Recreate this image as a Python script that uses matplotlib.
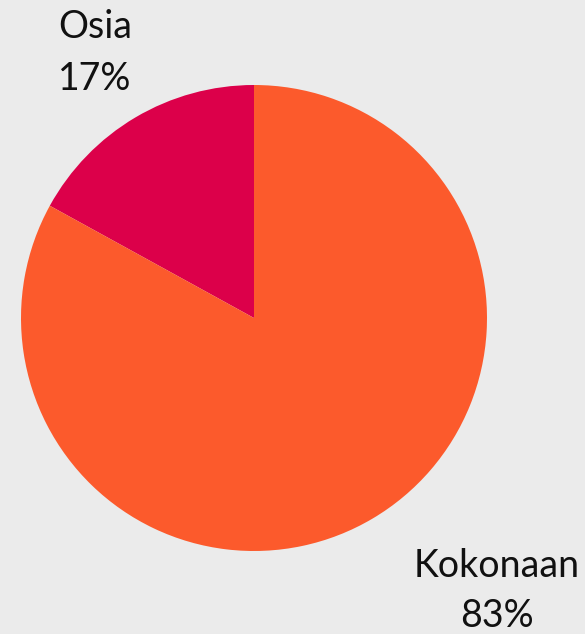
import matplotlib.pyplot as plt

labels = ['Osia', 'Kokonaan']
shares = [17, 83]
colors = ['#DC004A', '#FC5A2C']

bg = '#EBEBEB'
W, H = 585, 634
cx, cy, r = 254, 318, 233

fig = plt.figure(figsize=(W / 100, H / 100), dpi=100, facecolor=bg)
ax = fig.add_axes([(cx - r) / W, (H - cy - r) / H, 2 * r / W, 2 * r / H])
ax.set_facecolor(bg)
ax.pie(shares, colors=colors, startangle=90, counterclock=True, radius=1,
       wedgeprops=dict(linewidth=0))
ax.set_xlim(-1, 1)
ax.set_ylim(-1, 1)
ax.set_aspect('equal')
ax.axis('off')

# label anchor: x centre and baselines of the two lines, in pixels
label_pos = {'Osia': (95, 38, 90), 'Kokonaan': (497, 577, 627)}
for lab, val in zip(labels, shares):
    px, b1, b2 = label_pos[lab]
    for txt, py in ((lab, b1), (f'{val}%', b2)):
        ax.text((px - cx) / r, (cy - py) / r, txt, ha='center', va='baseline',
                fontsize=27, family='Lato', color='#111111', clip_on=False)

fig.savefig('out.png', dpi=100, facecolor=bg)
